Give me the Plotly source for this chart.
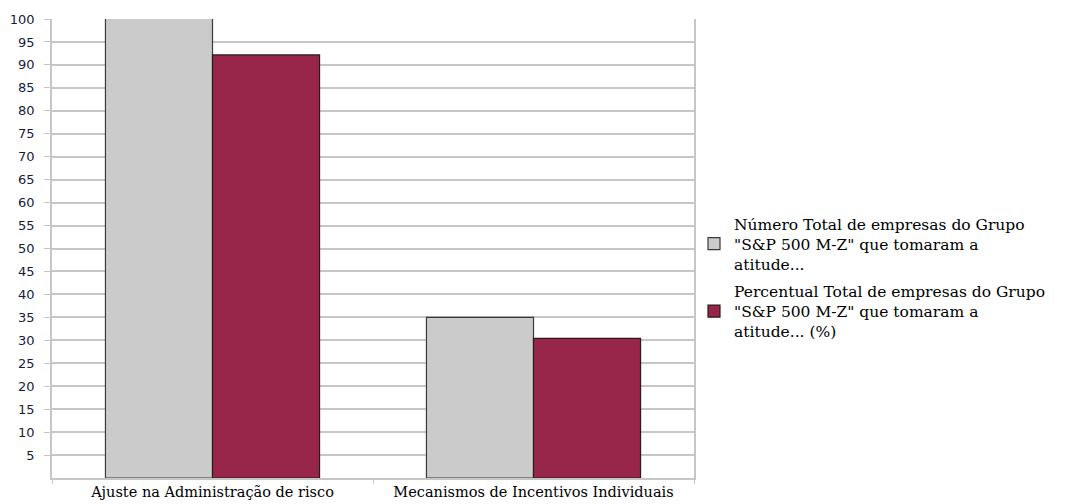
import plotly.graph_objects as go

# Categories and series
categories = ["Ajuste na Administração de risco", "Mecanismos de Incentivos Individuais"]
total_companies = [106, 35]
percent_companies = [92.17, 30.43]
series_names = [
    'Número Total de empresas do Grupo<br>"S&P 500 M-Z" que tomaram a<br>atitude...',
    'Percentual Total de empresas do Grupo<br>"S&P 500 M-Z" que tomaram a<br>atitude... (%)',
]
y_ticks = list(range(5, 101, 5))

grid_color = "#c6c6c6"
serif = "DejaVu Serif, serif"
sans = "DejaVu Sans, sans-serif"

fig = go.Figure()
fig.add_trace(go.Bar(
    x=categories, y=total_companies, name=series_names[0], legendgroup="total",
    marker=dict(color="#cbcbcb", line=dict(color="#3a3a3a", width=1.2)),
))
fig.add_trace(go.Bar(
    x=categories, y=percent_companies, name=series_names[1], legendgroup="percent",
    marker=dict(color="#97264a", line=dict(color="#2a1a1a", width=1.2)),
))

fig.update_layout(
    width=1066, height=504,
    paper_bgcolor="white", plot_bgcolor="white",
    margin=dict(l=52, r=372, t=19, b=26, autoexpand=False),
    barmode="group", bargap=0.333, bargroupgap=0,
    legend=dict(
        x=1.0, xref="paper", xanchor="left",
        y=0.437, yanchor="middle",
        font=dict(family=serif, size=15.5, color="#000000"),
        itemwidth=30, tracegroupgap=4,
        bgcolor="rgba(0,0,0,0)",
    ),
    xaxis=dict(
        type="category", automargin=False,
        showline=True, linecolor=grid_color, linewidth=1.5,
        ticks="outside", tickson="boundaries", ticklen=4, tickcolor=grid_color,
        tickfont=dict(family=serif, size=14.5, color="#000000"),
        showgrid=False,
    ),
    yaxis=dict(
        range=[0, 100], automargin=False,
        tickmode="array", tickvals=y_ticks,
        showline=True, linecolor=grid_color, linewidth=1.5, mirror=True,
        ticks="outside", ticklen=6, tickcolor=grid_color,
        ticklabelstandoff=7,
        tickfont=dict(family=sans, size=13, color="#1a1a3a"),
        showgrid=True, gridcolor=grid_color, gridwidth=1.5,
        zeroline=False,
    ),
)

fig.write_html("out.html")
